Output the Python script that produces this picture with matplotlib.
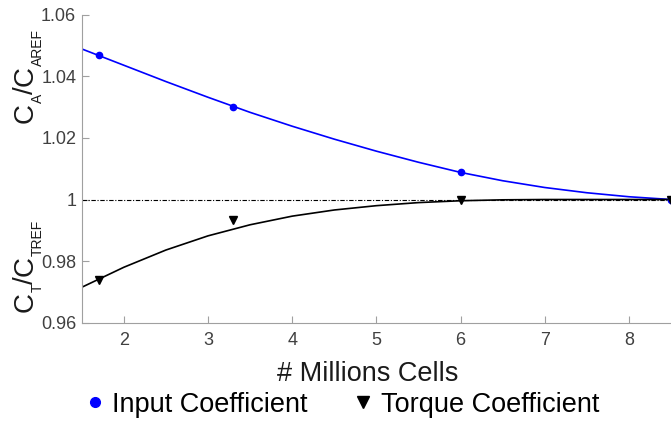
import matplotlib as mpl
mpl.use('Agg')
import numpy as np
import matplotlib.pyplot as plt
from matplotlib.lines import Line2D

plt.rcParams['font.family'] = ['Liberation Sans', 'DejaVu Sans']

# mesh sizes (millions of cells) and normalised coefficients
cells = [1.7, 3.3, 6.0, 8.5]
input_coef = [1.0468, 1.0299, 1.0088, 1.0]
torque_coef = [0.9738, 0.9935, 0.9998, 1.0]

# fitted trend curves
fit_x = [1.5, 2.0, 2.5, 3.0, 3.5, 4.0, 4.5, 5.0, 5.5, 6.0, 6.5, 7.0, 7.5, 8.0, 8.5]
input_fit = [1.0489, 1.0436, 1.0383, 1.0332, 1.0283, 1.0238, 1.0196, 1.0157, 1.0121,
             1.0088, 1.0061, 1.0039, 1.0022, 1.0009, 1.0]
torque_fit = [0.9715, 0.9780, 0.9836, 0.9882, 0.9918, 0.9946, 0.9966, 0.9980, 0.9990,
              0.9996, 0.9999, 1.0, 1.0, 1.0, 1.0]

yticks = [0.96, 0.98, 1.0, 1.02, 1.04, 1.06]
xticks = [2, 3, 4, 5, 6, 7, 8]

# y label pieces: (text, is_subscript)
label_top = [('C', False), ('A', True), ('/', False), ('C', False), ('AREF', True)]
label_bot = [('C', False), ('T', True), ('/', False), ('C', False), ('TREF', True)]

W, H = 671, 428
fig = plt.figure(figsize=(W / 100, H / 100), dpi=100)
ax = fig.add_axes([0.1218, 0.246, 0.8782, 0.7196])

ax.plot([1.5, 8.5], [1.0, 1.0], color='k', lw=0.8, ls=(0, (4, 1.5, 1, 1.5)))
ax.plot(fit_x, input_fit, color='b', lw=1.2)
ax.plot(fit_x, torque_fit, color='k', lw=1.2)
ax.plot(cells, input_coef, 'o', color='b', ms=4.5, mec='b')
ax.plot(cells, torque_coef, 'v', color='k', ms=6)

ax.set_xlim(1.5, 8.5)
ax.set_ylim(0.96, 1.06)
ax.set_xticks(xticks)
ax.set_yticks(yticks)
ax.set_yticklabels(['%g' % v for v in yticks])
ax.tick_params(direction='in', length=5, width=0.8, color='#a0a0a0',
               labelsize=13, labelcolor='#404040')
ax.tick_params(axis='x', pad=7)
ax.tick_params(axis='y', pad=4)
for s in ['top', 'right']:
    ax.spines[s].set_visible(False)
for s in ['left', 'bottom']:
    ax.spines[s].set_color('#a0a0a0')
    ax.spines[s].set_linewidth(0.8)

ax.set_xlabel('# Millions Cells', fontsize=19.5, color='#1a1a1a')
ax.xaxis.set_label_coords(0.486, -0.167)
ax.xaxis.label.set_va('center')

# rotated label built from pieces so subscripts can be small
renderer = fig.canvas.get_renderer()
def stacked_label(pieces, y0, xbase=33, xsub=42, big=20, small=10):
    y = y0
    for txt, sub in pieces:
        t = fig.text((xsub if sub else xbase) / W, y / H, txt, rotation=90,
                     rotation_mode='anchor', ha='left', va='baseline',
                     fontsize=small if sub else big, color='#1a1a1a')
        y += t.get_window_extent(renderer).height

stacked_label(label_top, H - 123)
stacked_label(label_bot, H - 312)

handles = [Line2D([], [], ls='none', marker='o', color='b', ms=7),
           Line2D([], [], ls='none', marker='v', color='k', ms=8)]
fig.legend(handles, ['Input Coefficient', 'Torque Coefficient'], loc='center',
           bbox_to_anchor=(0.511, 0.054), ncol=2, frameon=False, fontsize=19.5,
           handlelength=0.6, handletextpad=0.35, columnspacing=1.75)

plt.savefig('out.png', dpi=100)
plt.close()
